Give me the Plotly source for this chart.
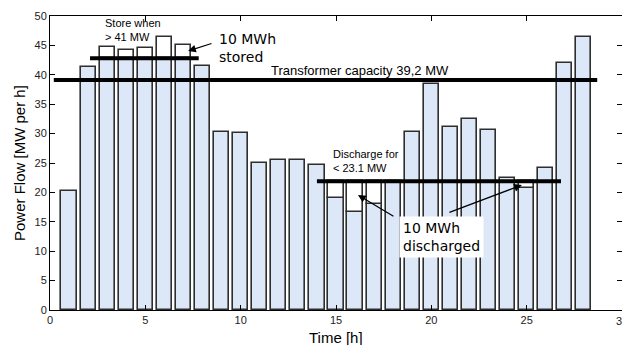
import plotly.graph_objects as go

# ---- data ----
hours = list(range(1, 29))
power = [20.2, 41.3, 44.8, 44.3, 44.6, 46.4, 45.1, 41.5, 30.3, 30.1,
         25.0, 25.5, 25.5, 24.6, 19.1, 16.7, 18.0, 22.0, 30.3, 38.5,
         31.1, 32.4, 30.6, 22.5, 20.7, 24.2, 42.0, 46.5]
store_hours = [3, 4, 5, 6, 7]
discharge_hours = [15, 16, 17, 25]
store_level = 42.8
discharge_level = 21.9
transformer_level = 39.1
store_span = [2.1, 7.8]
discharge_span = [14.0, 26.8]
transformer_span = [0.2, 28.7]

x_ticks = [0, 5, 10, 15, 20, 25, 30]
y_ticks = [0, 5, 10, 15, 20, 25, 30, 35, 40, 45, 50]

# ---- derived ----
blue_top = [min(v, store_level) if h in store_hours else v for h, v in zip(hours, power)]
white_x, white_base, white_h = [], [], []
for h, v in zip(hours, power):
    if h in store_hours:
        white_x.append(h); white_base.append(store_level); white_h.append(v - store_level)
    elif h in discharge_hours:
        white_x.append(h); white_base.append(v); white_h.append(discharge_level - v)

BLUE = "#dce8f8"
EDGE = "#2e2e2e"
FONT = "Liberation Sans, Arial, sans-serif"
VFONT = "DejaVu Sans, Verdana, sans-serif"

fig = go.Figure()
fig.add_trace(go.Bar(x=hours, y=blue_top, width=0.8, marker=dict(color=BLUE, line=dict(color=EDGE, width=1.6)),
                     showlegend=False, hoverinfo="skip"))
fig.add_trace(go.Bar(x=white_x, y=white_h, base=white_base, width=0.8,
                     marker=dict(color="white", line=dict(color=EDGE, width=1.6)),
                     showlegend=False, hoverinfo="skip"))
for span, lvl in [(transformer_span, transformer_level), (store_span, store_level), (discharge_span, discharge_level)]:
    fig.add_trace(go.Scatter(x=span, y=[lvl, lvl], mode="lines", line=dict(color="black", width=4),
                             showlegend=False, hoverinfo="skip"))

ann = []
ann.append(dict(x=2.78, y=47.6, text="Store when<br>> 41 MW", xanchor="left", yanchor="middle", align="left",
                showarrow=False, font=dict(family=FONT, size=11, color="black")))
ann.append(dict(x=8.76, y=44.6, text="10 MWh<br>stored", xanchor="left", yanchor="middle", align="left",
                showarrow=False, font=dict(family=VFONT, size=14, color="black")))
ann.append(dict(x=16.26, y=40.8, text="Transformer capacity 39,2 MW", xanchor="center", yanchor="middle",
                showarrow=False, font=dict(family=FONT, size=13, color="black")))
ann.append(dict(x=14.74, y=25.3, text="Discharge for<br>< 23.1 MW", xanchor="left", yanchor="middle", align="left",
                showarrow=False, font=dict(family=FONT, size=11, color="black")))
ann.append(dict(x=18.3, y=12.5, text="10 MWh<br>discharged", xanchor="left", yanchor="middle", align="left",
                showarrow=False, bgcolor="white", borderpad=3, font=dict(family=VFONT, size=14, color="black")))
for (tx, ty, hx, hy) in [(8.55, 45.4, 7.24, 44.05), (18.09, 15.8, 16.15, 19.56), (20.87, 16.5, 24.75, 21.26)]:
    ann.append(dict(x=hx, y=hy, ax=tx, ay=ty, xref="x", yref="y", axref="x", ayref="y", text="",
                    showarrow=True, arrowhead=2, arrowsize=1.3, arrowwidth=1.2, arrowcolor="black"))
# cut-off last tick label at the right edge
ann.append(dict(x=1, y=0, xref="paper", yref="paper", yshift=-11, text=str(x_ticks[-1]),
                xanchor="center", yanchor="middle", showarrow=False, font=dict(family=FONT, size=11, color="#222")))
# axis titles
ann.append(dict(x=0, y=0.5, xref="paper", yref="paper", xshift=-31, text="Power Flow [MW per h]", textangle=-90,
                xanchor="center", yanchor="middle", showarrow=False, font=dict(family=FONT, size=15, color="black")))
ann.append(dict(x=0.5, y=0, xref="paper", yref="paper", yshift=-27, text="Time [h]",
                xanchor="center", yanchor="middle", showarrow=False, font=dict(family=FONT, size=15, color="black")))

axis_common = dict(showline=True, mirror="ticks", linecolor="black", linewidth=1, ticks="inside", ticklen=5,
                   tickcolor="black", showgrid=False, zeroline=False,
                   tickfont=dict(family=FONT, size=11, color="#222"))
fig.update_layout(
    width=622, height=345, margin=dict(l=50, r=0, t=16, b=35),
    paper_bgcolor="white", plot_bgcolor="white", barmode="overlay", bargap=0,
    xaxis=dict(range=[0, 30], tickvals=x_ticks, **axis_common),
    yaxis=dict(range=[0, 50], tickvals=y_ticks, **axis_common),
    annotations=ann,
)
fig.write_html("out.html")
